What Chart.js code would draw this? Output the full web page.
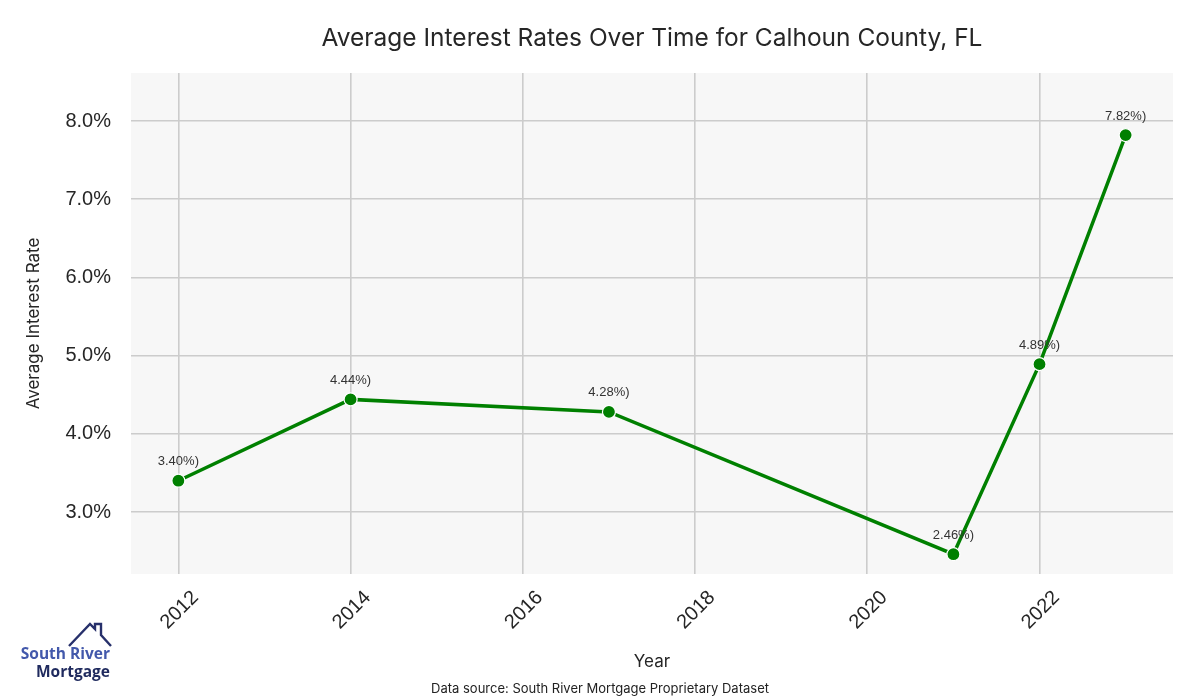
<!DOCTYPE html>
<html>
<head>
<meta charset="utf-8">
<script src="https://cdn.jsdelivr.net/npm/chart.js@4/dist/chart.umd.min.js"></script>
<style>
  html, body { margin: 0; padding: 0; background: #ffffff; }
  #wrap { width: 1200px; height: 700px; position: relative; }
</style>
</head>
<body>
<div id="wrap"><canvas id="c" width="1200" height="700"></canvas></div>
<script>
// ---- Data ----
const years = [2012, 2014, 2017, 2021, 2022, 2023];
const rates = [3.40, 4.44, 4.28, 2.46, 4.89, 7.82];
const xTickValues = [2012, 2014, 2016, 2018, 2020, 2022];
const yTickValues = [3, 4, 5, 6, 7, 8];
const chartTitle = 'Average Interest Rates Over Time for Calhoun County, FL';
const xAxisTitle = 'Year';
const yAxisTitle = 'Average Interest Rate';
const sourceNote = 'Data source: South River Mortgage Proprietary Dataset';
const logoLine1 = 'South River';
const logoLine2 = 'Mortgage';

const points = years.map((y, i) => ({ x: y, y: rates[i] }));

const decor = {
  id: 'decor',
  beforeDraw(chart) {
    const { ctx, chartArea: a } = chart;
    ctx.save();
    ctx.fillStyle = '#ffffff';
    ctx.fillRect(0, 0, chart.width, chart.height);
    ctx.fillStyle = '#f7f7f7';
    ctx.fillRect(a.left, a.top, a.right - a.left, a.bottom - a.top);
    ctx.restore();
  },
  afterDraw(chart) {
    const { ctx, chartArea: a } = chart;
    ctx.save();
    // title
    ctx.fillStyle = '#262626';
    ctx.font = '24.5px Inter';
    ctx.textAlign = 'center';
    ctx.textBaseline = 'middle';
    ctx.fillText(chartTitle, (a.left + a.right) / 2, 39);
    // source
    ctx.font = '13px Inter';
    ctx.fillStyle = '#222';
    ctx.fillText(sourceNote, 600, 689);
    // data labels
    const meta = chart.getDatasetMeta(0);
    ctx.font = '13px "Liberation Sans"';
    ctx.fillStyle = '#333';
    meta.data.forEach((pt, i) => {
      ctx.fillText(rates[i].toFixed(2) + '%)', pt.x, pt.y - 19);
    });
    // logo
    ctx.strokeStyle = '#27306b';
    ctx.lineWidth = 2.4;
    ctx.lineJoin = 'miter';
    ctx.beginPath();
    ctx.moveTo(69, 646);
    ctx.lineTo(90, 624);
    ctx.lineTo(95, 629);
    ctx.lineTo(95, 624);
    ctx.lineTo(101, 624);
    ctx.lineTo(101, 635);
    ctx.lineTo(111, 646);
    ctx.stroke();
    ctx.textAlign = 'right';
    ctx.textBaseline = 'alphabetic';
    ctx.font = 'bold 15.5px "Open Sans"';
    ctx.fillStyle = '#4258ab';
    ctx.fillText(logoLine1, 110, 659);
    ctx.fillStyle = '#1f2a5e';
    ctx.fillText(logoLine2, 110, 677);
    ctx.restore();
  }
};

new Chart(document.getElementById('c'), {
  type: 'line',
  data: {
    datasets: [{
      data: points,
      borderColor: '#008000',
      backgroundColor: '#008000',
      borderWidth: 3.5,
      pointRadius: 6.5,
      pointHoverRadius: 6.5,
      pointBackgroundColor: '#008000',
      pointBorderColor: '#ffffff',
      pointBorderWidth: 1.2,
      tension: 0,
      fill: false
    }]
  },
  options: {
    responsive: false,
    animation: false,
    events: [],
    layout: { padding: { top: 73, right: 27, bottom: 0, left: 0 } },
    plugins: { legend: { display: false }, tooltip: { enabled: false }, title: { display: false } },
    scales: {
      x: {
        type: 'linear',
        min: 2011.45,
        max: 2023.55,
        afterBuildTicks(s) { s.ticks = xTickValues.map(v => ({ value: v })); },
        afterFit(s) { s.height = 126; },
        border: { display: false },
        grid: { color: '#cccccc', lineWidth: 1.6, drawTicks: false },
        ticks: {
          minRotation: 45, maxRotation: 45,
          padding: 12,
          labelOffset: 17,
          color: '#262626',
          font: { family: '"Liberation Sans"', size: 20 },
          callback: v => String(v)
        },
        title: {
          display: true, text: xAxisTitle, color: '#262626',
          font: { family: 'Inter', size: 17 },
          padding: { top: 0, bottom: 28 }
        }
      },
      y: {
        min: 2.207,
        max: 8.614,
        afterBuildTicks(s) { s.ticks = yTickValues.map(v => ({ value: v })); },
        afterFit(s) { s.width = 131; },
        border: { display: false },
        grid: { color: '#cccccc', lineWidth: 1.6, drawTicks: false },
        ticks: {
          padding: 20,
          color: '#262626',
          font: { family: '"Liberation Sans"', size: 20 },
          callback: v => v.toFixed(1) + '%'
        },
        title: {
          display: true, text: yAxisTitle, color: '#262626',
          font: { family: 'Inter', size: 17 },
          padding: { top: 24, bottom: 0 }
        }
      }
    }
  },
  plugins: [decor]
});
</script>
</body>
</html>
